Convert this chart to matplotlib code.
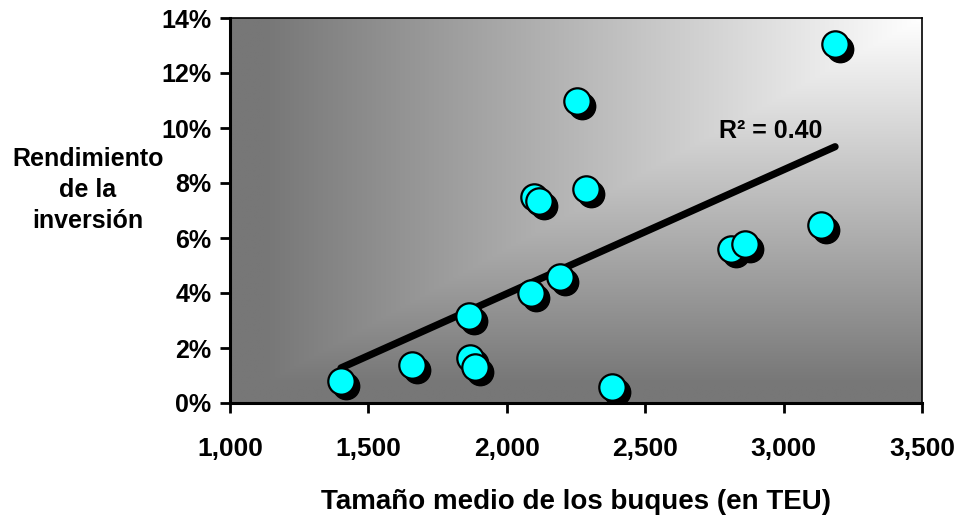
import numpy as np
import matplotlib
matplotlib.use("Agg")
import matplotlib.pyplot as plt
from matplotlib.transforms import offset_copy
from matplotlib.ticker import FuncFormatter

plt.rcParams['font.family'] = ['Liberation Sans', 'DejaVu Sans']
plt.rcParams['font.weight'] = 'bold'

# Data (average ship size in TEU, return on investment in %)
ship_size = [1401, 1657, 1867, 1885, 1863, 2087, 2192, 2098, 2118,
             2286, 2254, 3186, 2810, 2861, 3135, 2380]
roi = [0.8, 1.38, 1.64, 1.31, 3.16, 4.0, 4.6, 7.49, 7.36,
       7.78, 10.98, 13.05, 5.6, 5.78, 6.47, 0.58]
x_ticks = [1000, 1500, 2000, 2500, 3000, 3500]
y_ticks = [0, 2, 4, 6, 8, 10, 12, 14]
r2_label = "R² = 0.40"

fig = plt.figure(figsize=(9.59, 5.18), dpi=100)
ax = fig.add_axes([230/959, 1-403/518, (922-230)/959, (403-18)/518])
ax.set_xlim(1000, 3500)
ax.set_ylim(0, 14)

# corner gradient background (white top-right -> gray)
ny, nx = 200, 360
xx = np.linspace(1, 0, nx)[None, :].repeat(ny, 0)   # distance from right
yy = np.linspace(0, 1, ny)[:, None].repeat(nx, 1)   # distance from top
t = np.clip(np.maximum(xx, yy) / 0.95, 0, 1)
val = (255 - 136 * t) / 255.0
img = np.dstack([val, val, val])
ax.imshow(img, extent=[0, 1, 0, 1], transform=ax.transAxes, aspect='auto',
          zorder=0, interpolation='bilinear')

# trend line (least squares fit)
xs = np.array(ship_size, dtype=float)
ys = np.array(roi, dtype=float)
m, b = np.polyfit(xs, ys, 1)
xl = np.array([xs.min(), xs.max()])
ax.plot(xl, m * xl + b, color='black', lw=5.2, solid_capstyle='round', zorder=3)

# shadows then markers
shadow_tr = offset_copy(ax.transData, fig=fig, x=5, y=-5, units='dots')
for xv, yv in zip(ship_size, roi):
    ax.plot(xv, yv, 'o', ms=19, color='black', mec='black',
            transform=shadow_tr, zorder=4)
    ax.plot(xv, yv, 'o', ms=19, color='#00FFFF', mec='black', mew=1.6, zorder=5)

ax.text(2765, 9.65, r2_label, fontsize=18, fontweight='bold', ha='left',
        va='baseline', zorder=6)

ax.set_xticks(x_ticks)
ax.set_yticks(y_ticks)
ax.xaxis.set_major_formatter(FuncFormatter(lambda v, p: f"{int(v):,}"))
ax.yaxis.set_major_formatter(FuncFormatter(lambda v, p: f"{int(v)}%"))
ax.tick_params(axis='both', direction='out', length=7.5, width=2,
               labelsize=18, pad=6)
ax.tick_params(axis='x', pad=17, labelsize=19)
for lab in ax.get_xticklabels() + ax.get_yticklabels():
    lab.set_fontweight('bold')

for s in ['left', 'bottom']:
    ax.spines[s].set_linewidth(2.2)
for s in ['top', 'right']:
    ax.spines[s].set_linewidth(1.2)

ax.set_xlabel("Tamaño medio de los buques (en TEU)", fontsize=20,
              fontweight='bold', labelpad=20)
fig.text(88/959, 1-190/518, "Rendimiento\nde la\ninversión", fontsize=18,
         fontweight='bold', ha='center', va='center', linespacing=1.35)

fig.savefig("out.png", dpi=100)
